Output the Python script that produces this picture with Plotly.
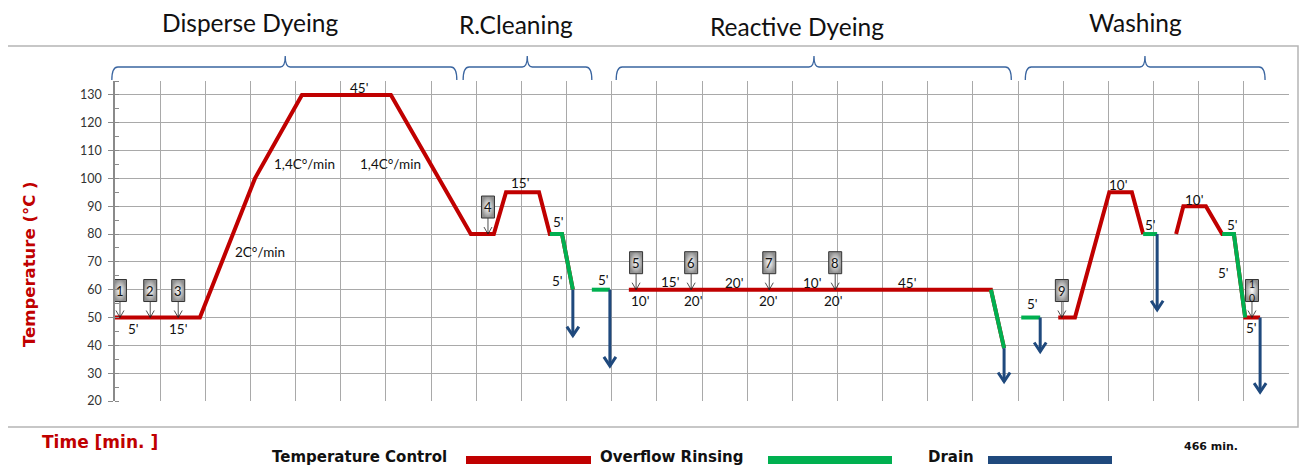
import plotly.graph_objects as go

# ---------------- data ----------------
# x positions are in grid columns (26 equal columns across the chart), y in °C
temp_x = [0, 1.88, 3.10, 4.14, 6.11, 7.88, 8.39, 8.66, 9.39, 9.63, 9.90, 10.14, None,
          11.38, 19.40, 19.69, None,
          20.89, 21.26, 22.02, 22.52, 22.77, None,
          23.50, 23.66, 24.16, 24.52, 24.78, 25.03, 25.36]
temp_y = [50, 50, 100, 130, 130, 80, 80, 95, 95, 80, 80, 60, None,
          60, 60, 39, None,
          50, 50, 95, 95, 80, None,
          80, 90, 90, 80, 80, 50, 50]

rinse_x = [9.63, 9.90, 10.14, None, 10.56, 10.96, None, 19.40, 19.69, None,
           20.07, 20.49, None, 22.77, 23.08, None, 24.52, 24.78, 25.03]
rinse_y = [80, 80, 60, None, 60, 60, None, 60, 39, None,
           50, 50, None, 80, 80, None, 80, 80, 50]

drain_x = [10.14, 10.96, 19.69, 20.49, 23.08, 25.36]
drain_top = [60, 60, 39, 50, 80, 50]
drain_bottom = [43.5, 32.6, 27.0, 37.8, 52.8, 23.2]

step_labels = ["1", "2", "3", "4", "5", "6", "7", "8", "9", "1<br>0"]
step_x = [0.11, 0.78, 1.40, 8.26, 11.54, 12.76, 14.49, 15.95, 20.97, 25.18]
step_temp = [50, 50, 50, 80, 60, 60, 60, 60, 50, 50]

seg_text = ["5'", "15'", "2C°/min", "1,4C°/min", "45'", "1,4C°/min", "15'", "5'", "5'", "5'",
            "10'", "15'", "20'", "20'", "20'", "10'", "20'", "45'", "5'",
            "10'", "5'", "10'", "5'", "5'", "5'"]
seg_x = [0.40, 1.40, 3.21, 4.19, 5.40, 6.11, 8.97, 9.83, 9.79, 10.81,
         11.63, 12.29, 12.80, 13.71, 14.46, 15.44, 15.90, 17.54, 20.33,
         22.21, 22.94, 23.90, 24.74, 24.54, 25.18]
seg_y = [45.8, 45.8, 73.5, 105.2, 132.6, 105.2, 98.3, 84.3, 63.1, 63.5,
         55.9, 62.8, 55.9, 62.4, 55.9, 62.4, 55.9, 62.4, 54.9,
         97.6, 83.2, 92.2, 83.2, 66.0, 46.2]

phase_names = ["Disperse Dyeing", "R.Cleaning", "Reactive Dyeing", "Washing"]
phase_title_x = [3.01, 8.88, 15.11, 22.61]
phase_start = [-0.07, 7.71, 11.10, 20.16]
phase_mid = [3.77, 9.13, 15.48, 22.81]
phase_end = [7.57, 10.56, 19.85, 25.47]

y_ticks = [20, 30, 40, 50, 60, 70, 80, 90, 100, 110, 120, 130]
legend_names = ["Temperature Control", "Overflow Rinsing", "Drain"]
total_time = "466 min."

# ---------------- layout helpers ----------------
# The page body has an 8px margin, so the figure is 8px smaller and all
# page-pixel targets below are expressed in page coordinates.
PAGE_W, PAGE_H = 1308, 466
BODY = 8
W, H = PAGE_W - BODY, PAGE_H - BODY
PL, PR, PT, PB = 115, 1289, 81, 401        # plot area in page pixels
L, R, T, B = PL - BODY, PAGE_W - PR, PT - BODY, PAGE_H - PB
PW, PH = W - L - R, H - T - B
XMIN, XMAX = 0, 26
YMIN, YMAX = 20, 135
DX = (XMAX - XMIN) / PW      # data units per pixel (x)
DY = (YMAX - YMIN) / PH      # data units per pixel (y)

RED, GREEN, BLUE = "#c00000", "#00b050", "#1f497d"
BRACE = "#3a65a0"
LABEL_FONT = "Lato, Carlito, Open Sans, sans-serif"
BOLD_FONT = "DejaVu Sans, Verdana, sans-serif"


def pxx(px):
    return (px - PL) / PW


def pxy(py):
    return (PB - py) / PH


def ux_to_px(u):
    return PL + (u - XMIN) / DX


fig = go.Figure()

fig.add_trace(go.Scatter(x=temp_x, y=temp_y, mode="lines",
                         line=dict(color=RED, width=4), hoverinfo="skip"))
fig.add_trace(go.Scatter(x=rinse_x, y=rinse_y, mode="lines",
                         line=dict(color=GREEN, width=4), hoverinfo="skip"))

# drain arrows
dx_, dy_ = [], []
for x, t0, t1 in zip(drain_x, drain_top, drain_bottom):
    dx_ += [x, x, None, x - 6 * DX, x, x + 6 * DX, None]
    dy_ += [t0, t1, None, t1 + 9 * DY, t1, t1 + 9 * DY, None]
fig.add_trace(go.Scatter(x=dx_, y=dy_, mode="lines",
                         line=dict(color=BLUE, width=3), hoverinfo="skip"))

# step pointer arrows
ax_, ay_ = [], []
for x, t in zip(step_x, step_temp):
    ax_ += [x, x, None, x - 4 * DX, x, x + 4 * DX, None]
    ay_ += [t + 16 * DY, t, None, t + 7 * DY, t, t + 7 * DY, None]
fig.add_trace(go.Scatter(x=ax_, y=ay_, mode="lines",
                         line=dict(color="#222222", width=0.8), hoverinfo="skip"))

# step boxes with gradient fill
for lab, x, t in zip(step_labels, step_x, step_temp):
    x0, x1 = x - 6.5 * DX, x + 6.5 * DX
    y0, y1 = t + 16 * DY, t + 38 * DY
    fig.add_trace(go.Scatter(
        x=[x0, x1, x1, x0, x0], y=[y0, y0, y1, y1, y0], mode="lines",
        fill="toself",
        fillgradient=dict(type="radial",
                          colorscale=[[0, "#ffffff"], [1, "#8f8f8f"]]),
        line=dict(color="#333333", width=1), hoverinfo="skip"))
    fig.add_annotation(x=x, y=t + 27 * DY, text=lab, showarrow=False,
                       font=dict(family=LABEL_FONT, size=10.5 if "<br>" in lab else 13,
                                 color="#111111"),
                       xanchor="center", yanchor="middle")

# segment labels
for txt, x, y in zip(seg_text, seg_x, seg_y):
    fig.add_annotation(x=x, y=y, text=txt, showarrow=False,
                       font=dict(family=LABEL_FONT, size=13.5, color="#111111"),
                       xanchor="center", yanchor="middle")

shapes = []
# outer frame
shapes.append(dict(type="rect", xref="paper", yref="paper",
                   x0=pxx(7), x1=pxx(1298), y0=pxy(427), y1=pxy(46),
                   line=dict(color="#b5b5b5", width=1.5), layer="below"))

# phase braces and titles
title_py = [22, 25, 26, 22]
yl, yt, yb = 67, 56, 80
for name, tx, s, m, e, tpy in zip(phase_names, phase_title_x, phase_start, phase_mid,
                                  phase_end, title_py):
    x0, xm, x1 = ux_to_px(s), ux_to_px(m), ux_to_px(e)
    pts = (f"M {pxx(x0)},{pxy(yb)} Q {pxx(x0)},{pxy(yl)} {pxx(x0 + 6)},{pxy(yl)} "
           f"L {pxx(xm - 5)},{pxy(yl)} Q {pxx(xm)},{pxy(yl)} {pxx(xm)},{pxy(yt)} "
           f"Q {pxx(xm)},{pxy(yl)} {pxx(xm + 5)},{pxy(yl)} "
           f"L {pxx(x1 - 6)},{pxy(yl)} Q {pxx(x1)},{pxy(yl)} {pxx(x1)},{pxy(yb)}")
    shapes.append(dict(type="path", xref="paper", yref="paper", path=pts,
                       line=dict(color=BRACE, width=1.3)))
    fig.add_annotation(xref="paper", yref="paper", x=pxx(ux_to_px(tx)), y=pxy(tpy),
                       text=name, showarrow=False,
                       font=dict(family=LABEL_FONT, size=24.5, color="#111111"),
                       xanchor="center", yanchor="middle")

# axis titles
fig.add_annotation(xref="paper", yref="paper", x=pxx(29), y=pxy(264),
                   text="Temperature (°C )", textangle=-90, showarrow=False,
                   font=dict(family=BOLD_FONT, size=16.5, color=RED, weight="bold"),
                   xanchor="center", yanchor="middle")
fig.add_annotation(xref="paper", yref="paper", x=pxx(40), y=pxy(442),
                   text="Time [min. ]", showarrow=False,
                   font=dict(family=BOLD_FONT, size=17, color=RED, weight="bold"),
                   xanchor="left", yanchor="middle")
fig.add_annotation(xref="paper", yref="paper", x=pxx(1211), y=pxy(446),
                   text=total_time, showarrow=False,
                   font=dict(family=BOLD_FONT, size=11, color="#111111", weight="bold"),
                   xanchor="center", yanchor="middle")

# legend (text + bars)
leg_text_px = [270, 598, 926]
leg_bar_px = [(466, 591), (768, 892), (988, 1112)]
for name, tx, (b0, b1), col in zip(legend_names, leg_text_px, leg_bar_px, [RED, GREEN, BLUE]):
    fig.add_annotation(xref="paper", yref="paper", x=pxx(tx), y=pxy(456.5),
                       text=name, showarrow=False,
                       font=dict(family=BOLD_FONT, size=15, color="#111111", weight="bold"),
                       xanchor="left", yanchor="middle")
    shapes.append(dict(type="rect", xref="paper", yref="paper",
                       x0=pxx(b0), x1=pxx(b1), y0=pxy(464), y1=pxy(456),
                       fillcolor=col, line=dict(width=0)))

fig.update_layout(
    width=W, height=H, margin=dict(l=L, r=R, t=T, b=B),
    paper_bgcolor="white", plot_bgcolor="white", showlegend=False,
    shapes=shapes,
    xaxis=dict(range=[XMIN - 0.0001, XMAX + 0.0001], dtick=1, tick0=0, showgrid=True,
               gridcolor="#a9a9a9", gridwidth=1, showticklabels=False, ticks="",
               zeroline=False, showline=False, fixedrange=True),
    yaxis=dict(range=[YMIN - 0.0001, YMAX], tickvals=y_ticks, showgrid=True,
               gridcolor="#a9a9a9", gridwidth=1, zeroline=False,
               showline=True, linecolor="#8a8a8a", linewidth=1.5,
               ticks="outside", ticklen=5, tickcolor="#8a8a8a",
               minor=dict(ticks="inside", ticklen=4, dtick=5, tick0=20,
                          tickcolor="#8a8a8a", showgrid=False),
               tickfont=dict(family=LABEL_FONT, size=12.5, color="#333333"),
               ticklabelstandoff=4, fixedrange=True),
)

fig.write_html("out.html")
